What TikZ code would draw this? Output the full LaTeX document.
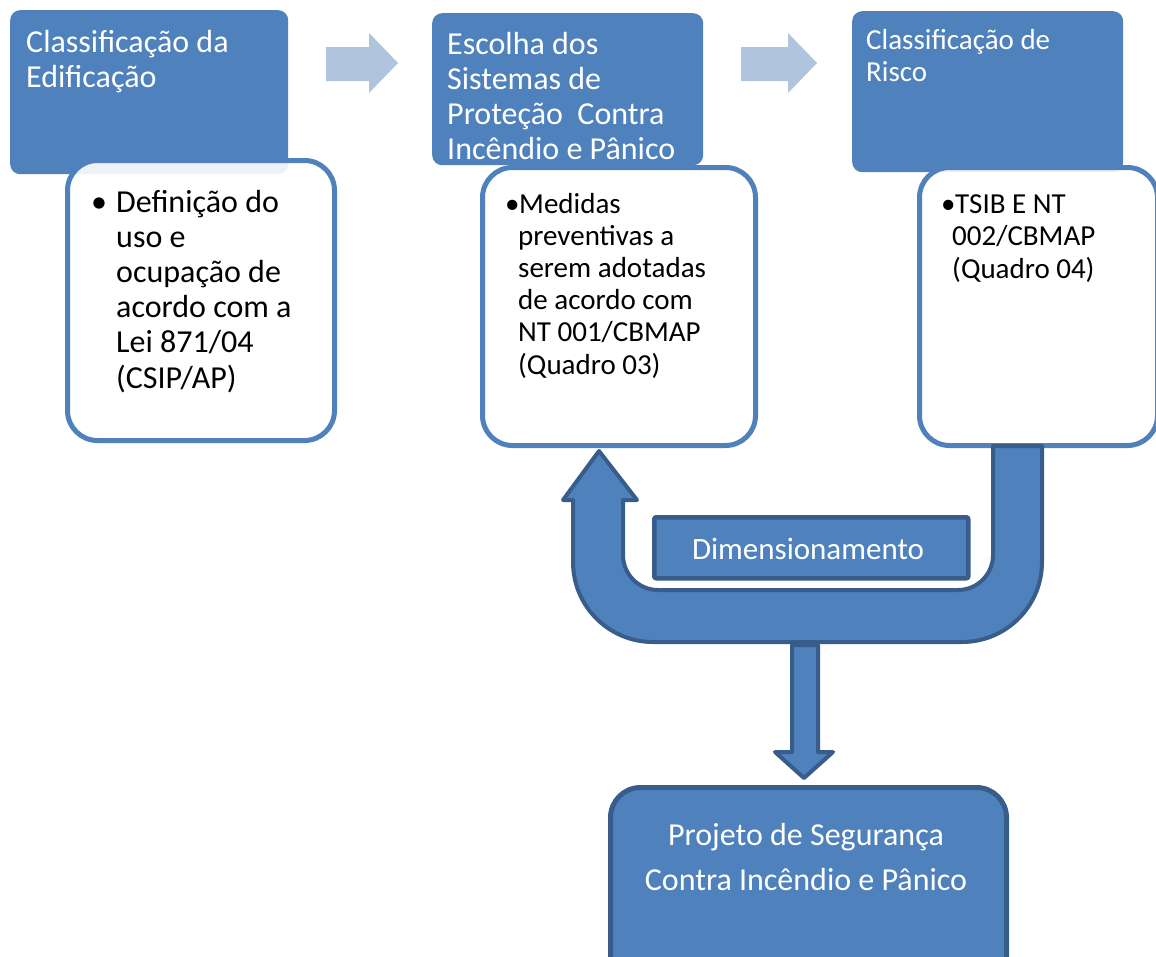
\documentclass[tikz,border=0pt]{standalone}
\usepackage{fontspec}
\setmainfont{Carlito}
\definecolor{accblue}{HTML}{4F81BD}
\definecolor{darkblue}{HTML}{385D8A}
\definecolor{lightblue}{RGB}{176,196,222}
\begin{document}
\begin{tikzpicture}[x=1pt,y=-1pt,
  hdr/.style={fill=accblue, rounded corners=10pt, anchor=north west, inner sep=0pt},
  wbox/.style={draw=accblue, line width=5pt, fill=white, fill opacity=0.9, rounded corners=30pt, anchor=north west, inner sep=0pt},
  htxt/.style={text=white, anchor=base west, inner sep=0pt},
  btxt/.style={text=black, anchor=base west, inner sep=0pt},
  big/.style={font=\fontsize{32}{35}\selectfont},
  small/.style={font=\fontsize{29}{32}\selectfont},
  ltarrow/.style={fill=lightblue},
  darrow/.style={fill=accblue, draw=darkblue, line width=4pt, line join=round},
]
\clip (0,0) rectangle (1156,956);
\fill[white] (0,0) rectangle (1156,956);

% light arrows
\fill[ltarrow] (326,47) -- (369,47) -- (369,33) -- (398,63) -- (369,93) -- (369,81) -- (326,81) -- cycle;
\fill[ltarrow] (741,47) -- (788,47) -- (788,33) -- (817,63) -- (788,93) -- (788,81) -- (741,81) -- cycle;

% column 1
\node[hdr, minimum width=278pt, minimum height=164pt] (h1) at (10,10) {};
\node[wbox, minimum width=267pt, minimum height=280pt] (w1) at (65,158) {};
\foreach \t [count=\i] in {Classificação da, Edificação}
  \node[htxt, big] (h1l\i) at (26,{52+35*(\i-1)}) {\t};
\node[btxt, big] (b1) at (91,212) {•};
\foreach \t [count=\i] in {Definição do, uso e, ocupação de, acordo com a, Lei 871/04, (CSIP/AP)}
  \node[btxt, big] (w1l\i) at (116,{212+35.2*(\i-1)}) {\t};

% column 2
\node[hdr, minimum width=271pt, minimum height=152pt] (h2) at (432,13) {};
\node[wbox, minimum width=273pt, minimum height=278pt] (w2) at (480,165) {};
\foreach \t [count=\i] in {Escolha dos, Sistemas de, Proteção\ \ Contra, Incêndio e Pânico}
  \node[htxt, big] (h2l\i) at (447,{54+35.3*(\i-1)}) {\t};
\node[btxt, small] (b2) at (505,213) {•};
\node[btxt, small] (w2l1) at (519,213) {Medidas};
\foreach \t [count=\i from 2] in {preventivas a, serem adotadas, de acordo com, NT 001/CBMAP, (Quadro 03)}
  \node[btxt, small] (w2l\i) at (518,{213+32.2*(\i-1)}) {\t};

% column 3
\node[hdr, minimum width=271pt, minimum height=161pt] (h3) at (852,11) {};
\node[wbox, minimum width=238pt, minimum height=278pt] (w3) at (917,165) {};
\foreach \t [count=\i] in {Classificação de, Risco}
  \node[htxt, small] (h3l\i) at (866,{49+32*(\i-1)}) {\t};
\node[btxt, small] (b3) at (941,213) {•};
\node[btxt, small] (w3l1) at (955,213) {TSIB E NT};
\foreach \t [count=\i from 2] in {002/CBMAP, (Quadro 04)}
  \node[btxt, small] (w3l\i) at (952,{213+32.5*(\i-1)}) {\t};

% U-turn arrow
\draw[darrow] (993,446) -- (993,555) arc[start angle=0,end angle=90,radius=35]
  -- (658,590) arc[start angle=90,end angle=180,radius=35]
  -- (623,500) -- (637,500) -- (599,451) -- (563,500) -- (573,500)
  -- (573,562) arc[start angle=180,end angle=90,radius=80]
  -- (962,642) arc[start angle=90,end angle=0,radius=80]
  -- (1042,446) -- cycle;

% Dimensionamento box
\node[draw=darkblue, fill=accblue, line width=4.5pt, rounded corners=2pt, anchor=north west, inner sep=0pt,
  minimum width=314pt, minimum height=61pt] (dim) at (652,515) {};
\node[text=white, inner sep=0pt, anchor=base, font=\fontsize{31}{35}\selectfont] (dimt) at (808,559) {Dimensionamento};

% down arrow
\draw[darrow] (792,645) -- (792,752) -- (775,752) -- (804,778) -- (833,752) -- (818,752) -- (818,645) -- cycle;

% final box
\node[draw=darkblue, fill=accblue, line width=5pt, rounded corners=30pt, anchor=north west, inner sep=0pt,
  minimum width=396pt, minimum height=200pt] (fin) at (608,785) {};
\node[text=white, inner sep=0pt, anchor=base, font=\fontsize{32}{35}\selectfont] (fin1) at (806,845) {Projeto de Segurança};
\node[text=white, inner sep=0pt, anchor=base, font=\fontsize{32}{35}\selectfont] (fin2) at (806,890) {Contra Incêndio e Pânico};
\end{tikzpicture}
\end{document}
